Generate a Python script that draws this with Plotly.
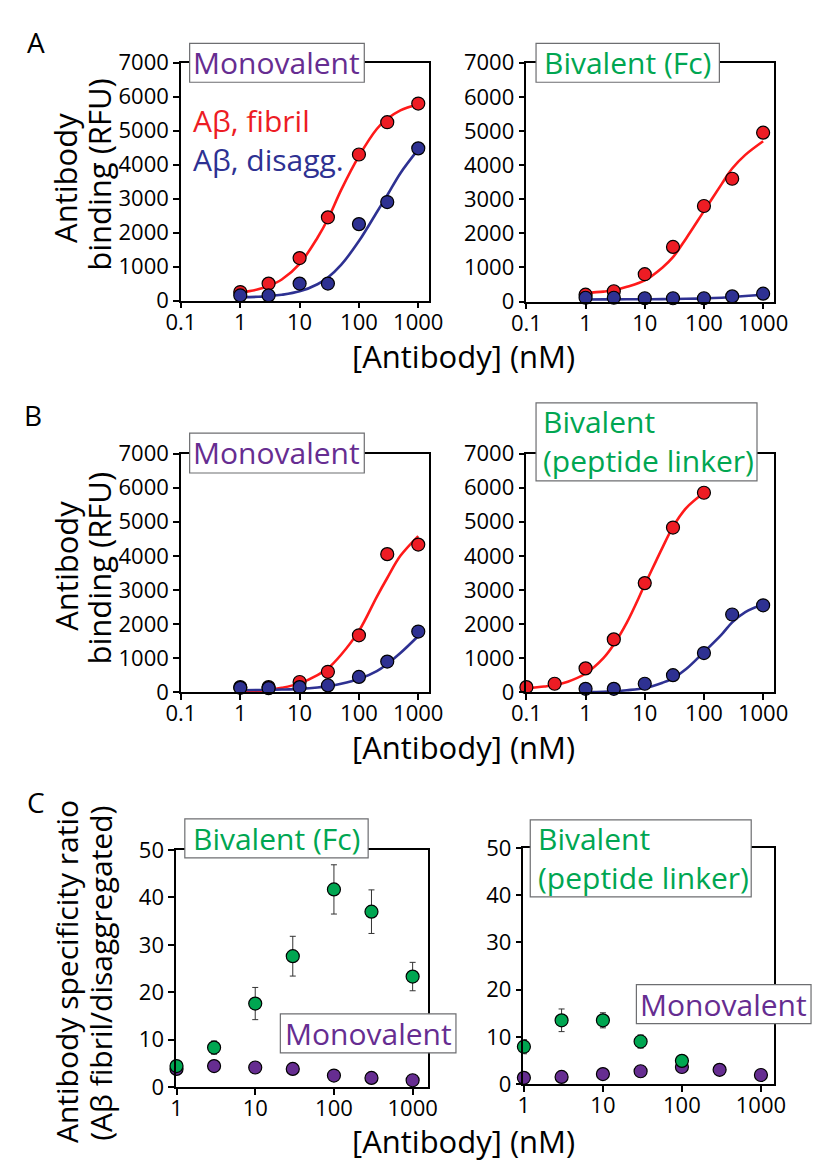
import plotly.graph_objects as go

FONT = "Open Sans"
W, H = 826, 1173

RED = "#ed1c24"
RED_LINE = "#ff1a1a"
BLUE = "#2e3192"
GREEN = "#00a651"
PURPLE = "#662d91"

# ---------------- data ----------------
conc = [1, 3, 10, 30, 100, 300, 1000]
conc_lo = [0.1, 0.3, 1, 3, 10, 30, 100]
curve_x = [1, 2, 3, 5, 10, 20, 30, 50, 100, 200, 300, 500, 1000]
curve_x_lo = [0.1, 0.2, 0.3, 0.5, 1, 2, 3, 5, 10, 20, 30, 50, 100]

# A: monovalent
a1_fibril = [250, 500, 1250, 2450, 4300, 5250, 5800]
a1_disagg = [150, 150, 500, 500, 2250, 2900, 4480]
a1_fibril_fit = [230, 330, 430, 620, 1080, 1850, 2400, 3250, 4250, 5050, 5350, 5600, 5780]
a1_disagg_fit = [100, 110, 130, 170, 270, 480, 680, 1050, 1750, 2600, 3100, 3750, 4450]
# A: bivalent (Fc)
a2_fibril = [200, 300, 800, 1600, 2800, 3600, 4950]
a2_disagg = [110, 110, 95, 95, 95, 150, 230]
a2_fibril_fit = [250, 290, 330, 430, 620, 1000, 1300, 1850, 2650, 3450, 3900, 4300, 4700]
a2_disagg_fit = [60, 62, 63, 64, 65, 70, 74, 80, 90, 110, 130, 160, 200]

# B: monovalent
b1_fibril = [150, 150, 300, 600, 1670, 4050, 4330]
b1_disagg = [130, 120, 150, 200, 450, 900, 1780]
b1_fibril_fit = [20, 40, 70, 130, 260, 500, 700, 1100, 1800, 2800, 3350, 4000, 4580]
b1_disagg_fit = [60, 65, 70, 80, 100, 140, 180, 250, 390, 620, 830, 1150, 1650]
# B: bivalent (peptide linker)
b2_fibril = [150, 250, 700, 1550, 3200, 4830, 5850]
b2_disagg = [100, 100, 250, 500, 1150, 2280, 2550]
b2_fibril_fit = [120, 170, 210, 310, 550, 1000, 1400, 2050, 3150, 4250, 4850, 5400, 5850]
b2_disagg_fit = [5, 15, 30, 60, 125, 280, 410, 680, 1180, 1700, 2050, 2350, 2580]

# C: specificity ratio
c1_biv = [4.4, 8.3, 17.6, 27.6, 41.7, 37.0, 23.3]
c1_biv_err = [0.5, 1.4, 3.4, 4.2, 5.2, 4.6, 3.0]
c1_mono = [3.8, 4.4, 4.1, 3.8, 2.4, 1.9, 1.4]
c2_conc = [1, 3, 10, 30, 100]
c2_biv = [7.9, 13.5, 13.5, 9.0, 4.9]
c2_biv_err = [1.5, 2.4, 1.6, 1.4, 0.5]
c2_mono = [1.3, 1.5, 2.1, 2.7, 3.6, 3.0, 1.9]

ytick_rfu = [0, 1000, 2000, 3000, 4000, 5000, 6000, 7000]
ytick_ratio = [0, 10, 20, 30, 40, 50]
xtick_ab = [0.1, 1, 10, 100, 1000]
xtick_c = [1, 10, 100, 1000]

fig = go.Figure()


def px_x(p):
    return p / W


def px_y(p):
    return 1 - p / H


def add_curve(x, y, color, ax):
    fig.add_trace(go.Scatter(x=x, y=y, mode="lines", xaxis="x" + ax, yaxis="y" + ax,
                             line=dict(color=color, width=2.6, shape="spline", smoothing=1.0),
                             showlegend=False, hoverinfo="skip"))


def add_pts(x, y, color, ax, err=None):
    kw = {}
    if err is not None:
        kw["error_y"] = dict(type="data", array=err, visible=True, color="#333333",
                             thickness=1, width=3)
    fig.add_trace(go.Scatter(x=x, y=y, mode="markers", xaxis="x" + ax, yaxis="y" + ax,
                             marker=dict(color=color, size=13, line=dict(color="black", width=1.2)),
                             cliponaxis=False, showlegend=False, **kw))


# A
add_curve(curve_x, a1_fibril_fit, RED_LINE, "")
add_curve(curve_x, a1_disagg_fit, BLUE, "")
add_pts(conc, a1_fibril, RED, "")
add_pts(conc, a1_disagg, BLUE, "")
add_curve(curve_x, a2_fibril_fit, RED_LINE, "2")
add_curve(curve_x, a2_disagg_fit, BLUE, "2")
add_pts(conc, a2_fibril, RED, "2")
add_pts(conc, a2_disagg, BLUE, "2")
# B
add_curve(curve_x, b1_fibril_fit, RED_LINE, "3")
add_curve(curve_x, b1_disagg_fit, BLUE, "3")
add_pts(conc, b1_fibril, RED, "3")
add_pts(conc, b1_disagg, BLUE, "3")
add_curve(curve_x_lo, b2_fibril_fit, RED_LINE, "4")
add_curve(curve_x, b2_disagg_fit, BLUE, "4")
add_pts(conc_lo, b2_fibril, RED, "4")
add_pts(conc, b2_disagg, BLUE, "4")
# C
add_pts(conc, c1_mono, PURPLE, "5")
add_pts(conc, c1_biv, GREEN, "5", c1_biv_err)
add_pts(conc, c2_mono, PURPLE, "6")
add_pts(c2_conc, c2_biv, GREEN, "6", c2_biv_err)

axis_style = dict(showline=True, linecolor="black", linewidth=1.5, mirror=True,
                  ticks="outside", ticklen=6, tickwidth=1.5, tickcolor="black",
                  showgrid=False, zeroline=False,
                  tickfont=dict(family=FONT, size=22, color="black"))

panels = [
    # (suffix, xpx, ypx, xrange(log), yrange, xticks, yticks)
    ("", (172, 429), (48, 292), [-1, 3.18], [0, 7000], xtick_ab, ytick_rfu),
    ("2", (530, 787), (48, 293), [-1, 3.19], [0, 7000], xtick_ab, ytick_rfu),
    ("3", (172, 429), (449, 694), [-1, 3.18], [0, 7000], xtick_ab, ytick_rfu),
    ("4", (530, 787), (449, 694), [-1, 3.19], [0, 7000], xtick_ab, ytick_rfu),
    ("5", (167, 428), (856, 1099), [-0.005, 3.195], [0, 50], xtick_c, ytick_ratio),
    ("6", (527, 787), (854, 1096), [-0.005, 3.17], [0, 50], xtick_c, ytick_ratio),
]

layout_axes = {}
for suf, xp, yp, xr, yr, xt, yt in panels:
    layout_axes["xaxis" + suf] = dict(axis_style, type="log", range=xr,
                                      domain=[px_x(xp[0]), px_x(xp[1])],
                                      anchor="y" + suf, tickvals=xt,
                                      ticktext=[str(v) for v in xt],
                                      ticklabelstandoff=-5)
    layout_axes["yaxis" + suf] = dict(axis_style, range=yr,
                                      domain=[px_y(yp[1]), px_y(yp[0])],
                                      anchor="x" + suf, tickvals=yt,
                                      ticktext=[str(v) for v in yt])

fig.update_layout(**layout_axes)

shapes = []
annotations = []


def box(x0, x1, y0, y1):
    shapes.append(dict(type="rect", xref="paper", yref="paper",
                       x0=px_x(x0), x1=px_x(x1), y0=px_y(y1), y1=px_y(y0),
                       fillcolor="white", line=dict(color="#6d6e71", width=1.2),
                       layer="above"))


def text(t, x, y, size, color="black", xanchor="center", angle=0):
    annotations.append(dict(text=t, x=px_x(x), y=px_y(y), xref="paper", yref="paper",
                            xanchor=xanchor, yanchor="middle", showarrow=False,
                            textangle=angle, align=xanchor if xanchor != "center" else "center",
                            font=dict(family=FONT, size=size, color=color)))


LBL = 30
# A
box(181, 362, 28, 68); text("Monovalent", 271.5, 48, LBL, PURPLE)
box(540, 730, 28, 68); text("Bivalent (Fc)", 635, 48, LBL, GREEN)
text(f"<span style='color:{RED}'>Aβ, fibril</span><br>"
     f"<span style='color:{BLUE}'>Aβ, disagg.</span>", 182, 127, LBL, RED, "left")
# B
box(181, 362, 428, 469); text("Monovalent", 271.5, 448, LBL, PURPLE)
box(540, 769, 397, 477)
text("Bivalent<br>(peptide linker)", 545, 436, LBL, GREEN, "left")
# C
box(176, 366, 824, 864); text("Bivalent (Fc)", 271, 844, LBL, GREEN)
box(275, 457, 1024, 1064); text("Monovalent", 366, 1044, LBL, PURPLE)
box(534, 763, 825, 904)
text("Bivalent<br>(peptide linker)", 540, 864, LBL, GREEN, "left")
box(644, 825, 994, 1034); text("Monovalent", 734.5, 1014, LBL, PURPLE)

# panel letters
text("A", 22, 27, 28)
text("B", 19, 409, 28)
text("C", 22, 807, 28)

# axis titles
TT = 31
text("[Antibody] (nM)", 465, 349, TT)
text("[Antibody] (nM)", 465, 750, TT)
text("[Antibody] (nM)", 465, 1155, TT)
text("Antibody", 52, 166, TT, angle=-90)
text("binding (RFU)", 87, 162, TT, angle=-90)
text("Antibody", 52, 564, TT, angle=-90)
text("binding (RFU)", 87, 566, TT, angle=-90)
text("Antibody specificity ratio", 54, 981, 30, angle=-90)
text("(Aβ fibril/disaggregated)", 89, 982, 30, angle=-90)

fig.update_layout(width=W, height=H, margin=dict(l=0, r=0, t=0, b=0),
                  paper_bgcolor="white", plot_bgcolor="white",
                  showlegend=False, shapes=shapes, annotations=annotations,
                  font=dict(family=FONT))

fig.write_html("out.html")
